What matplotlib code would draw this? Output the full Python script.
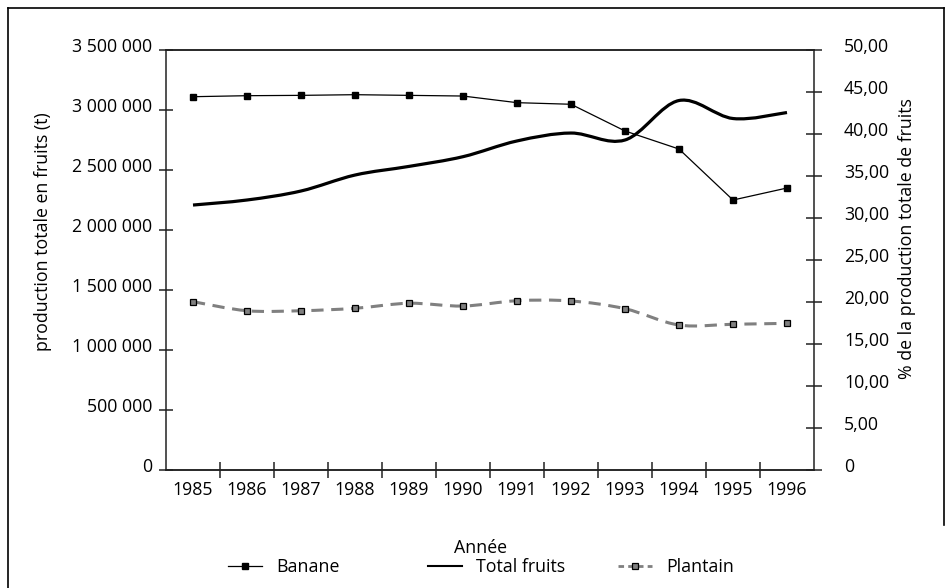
import matplotlib
matplotlib.use('Agg')
import matplotlib.pyplot as plt
from matplotlib.path import Path
from matplotlib.patches import PathPatch
from matplotlib.lines import Line2D
import matplotlib.transforms as mtransforms

# ---------------- data ----------------
years = [1985, 1986, 1987, 1988, 1989, 1990, 1991, 1992, 1993, 1994, 1995, 1996]
total_fruits = [2208000, 2250000, 2325000, 2458000, 2530000, 2611000,
                2742000, 2808000, 2750000, 3079000, 2929000, 2979000]
banane_pct = [44.44, 44.56, 44.60, 44.68, 44.60, 44.52,
              43.73, 43.54, 40.36, 38.21, 32.14, 33.57]
plantain_pct = [20.04, 18.96, 18.96, 19.25, 19.85, 19.52,
                20.15, 20.12, 19.20, 17.26, 17.35, 17.46]
left_ticks = [0, 500000, 1000000, 1500000, 2000000, 2500000, 3000000, 3500000]
right_ticks = [0, 5, 10, 15, 20, 25, 30, 35, 40, 45, 50]

FONT = ['Open Sans', 'DejaVu Sans']
plt.rcParams['font.family'] = FONT
FS = 12.8

W, H = 952, 588
fig = plt.figure(figsize=(W / 100, H / 100), dpi=100)


def smooth_path(xs, ys):
    """Excel-like smoothed line: cubic Bezier segments (Catmull-Rom)."""
    n = len(xs)
    verts = [(xs[0], ys[0])]
    codes = [Path.MOVETO]
    for i in range(n - 1):
        p0 = (xs[max(i - 1, 0)], ys[max(i - 1, 0)])
        p1 = (xs[i], ys[i])
        p2 = (xs[i + 1], ys[i + 1])
        p3 = (xs[min(i + 2, n - 1)], ys[min(i + 2, n - 1)])
        c1 = (p1[0] + (p2[0] - p0[0]) / 6, p1[1] + (p2[1] - p0[1]) / 6)
        c2 = (p2[0] - (p3[0] - p1[0]) / 6, p2[1] - (p3[1] - p1[1]) / 6)
        verts += [c1, c2, p2]
        codes += [Path.CURVE4] * 3
    return Path(verts, codes)


L, R, T, B = 166, 814, 50, 470
ax = fig.add_axes([L / W, 1 - B / H, (R - L) / W, (B - T) / H])
ax2 = ax.twinx()

xpos = list(range(len(years)))

# Total fruits (left axis), smoothed thick line
ax.add_patch(PathPatch(smooth_path(xpos, total_fruits), facecolor='none',
                       edgecolor='black', lw=2.3, capstyle='butt', zorder=3))
ax.set_ylim(0, 3500000)
ax.set_xlim(-0.5, len(years) - 0.5)

# Banane (right axis)
ax2.plot(xpos, banane_pct, color='black', lw=0.9, marker='s', markersize=4.5,
         markerfacecolor='black', markeredgecolor='black', zorder=4)
# Plantain (right axis) smoothed dashed grey
ax2.add_patch(PathPatch(smooth_path(xpos, plantain_pct), facecolor='none',
                        edgecolor='#808080', lw=2.2, linestyle=(0, (4, 2.5)),
                        capstyle='butt', zorder=3))
ax2.plot(xpos, plantain_pct, linestyle='none', marker='s', markersize=4.5,
         markerfacecolor='#808080', markeredgecolor='black', markeredgewidth=0.9,
         zorder=5)
ax2.set_ylim(0, 50)

# spines
for a in (ax, ax2):
    for s in a.spines.values():
        s.set_linewidth(1.1)
        s.set_color('#222222')
ax.spines['right'].set_visible(False)
ax2.spines['left'].set_visible(False)

# x ticks: marks between categories, labels centred
ax.set_xticks([i + 0.5 for i in xpos[:-1]])
ax.set_xticklabels([])
ax.set_xticks(xpos, minor=True)
ax.set_xticklabels([str(y) for y in years], minor=True, fontsize=FS)
ax.tick_params(axis='x', which='major', direction='inout', length=11.5, width=1.1,
               color='#222222')
ax.tick_params(axis='x', which='minor', length=0, pad=8, labelsize=FS)

ax.set_yticks(left_ticks)
ax.set_yticklabels(['0' if v == 0 else f"{v:,}".replace(',', ' ') for v in left_ticks],
                   fontsize=FS)
ax.tick_params(axis='y', direction='inout', length=9.5, width=1.1, color='#222222',
               pad=5)

ax2.set_yticks(right_ticks)
ax2.set_yticklabels(['0' if v == 0 else f"{v:.2f}".replace('.', ',') for v in right_ticks],
                    fontsize=FS)
ax2.tick_params(axis='y', direction='inout', length=11, width=1.1, color='#222222',
                pad=16)

# shift y tick labels slightly above their tick (as in the original)
off = mtransforms.ScaledTranslation(0, 5 / 100, fig.dpi_scale_trans)
for lab in ax.get_yticklabels() + ax2.get_yticklabels():
    lab.set_transform(lab.get_transform() + off)

# axis titles
fig.text(43 / W, 1 - 232 / H, 'production totale en fruits (t)', rotation=90,
         ha='center', va='center', fontsize=FS)
fig.text(907 / W, 1 - 239 / H, '% de la production totale de fruits', rotation=90,
         ha='center', va='center', fontsize=FS)
fig.text(481 / W, 1 - 548 / H, 'Année', ha='center', va='center', fontsize=FS)

# legend (three entries laid out like the original)
h_ban = Line2D([], [], color='black', lw=0.9, marker='s', markersize=4.5)
h_tot = Line2D([], [], color='black', lw=1.5)
h_pla = Line2D([], [], color='#808080', lw=2.0, linestyle=(0, (2, 1.5)), marker='s',
               markersize=4.5, markerfacecolor='#808080', markeredgecolor='black',
               markeredgewidth=0.9)
for h, lab, xleft in [(h_ban, 'Banane', 228), (h_tot, 'Total fruits', 428),
                      (h_pla, 'Plantain', 618)]:
    fig.legend([h], [lab], loc='center left', bbox_to_anchor=(xleft / W, 1 - 567 / H),
               frameon=False, fontsize=FS, handlelength=1.9, handletextpad=0.8,
               borderpad=0, borderaxespad=0)

# outer frame
frame_kw = dict(color='black', lw=1.2, transform=fig.transFigure)
fig.add_artist(Line2D([8 / W, 8 / W], [0, 1 - 8 / H], **frame_kw))
fig.add_artist(Line2D([8 / W, 944 / W], [1 - 8 / H, 1 - 8 / H], **frame_kw))
fig.add_artist(Line2D([944 / W, 944 / W], [1 - 8 / H, 1 - 525 / H], **frame_kw))

fig.savefig('out.png', dpi=100)
